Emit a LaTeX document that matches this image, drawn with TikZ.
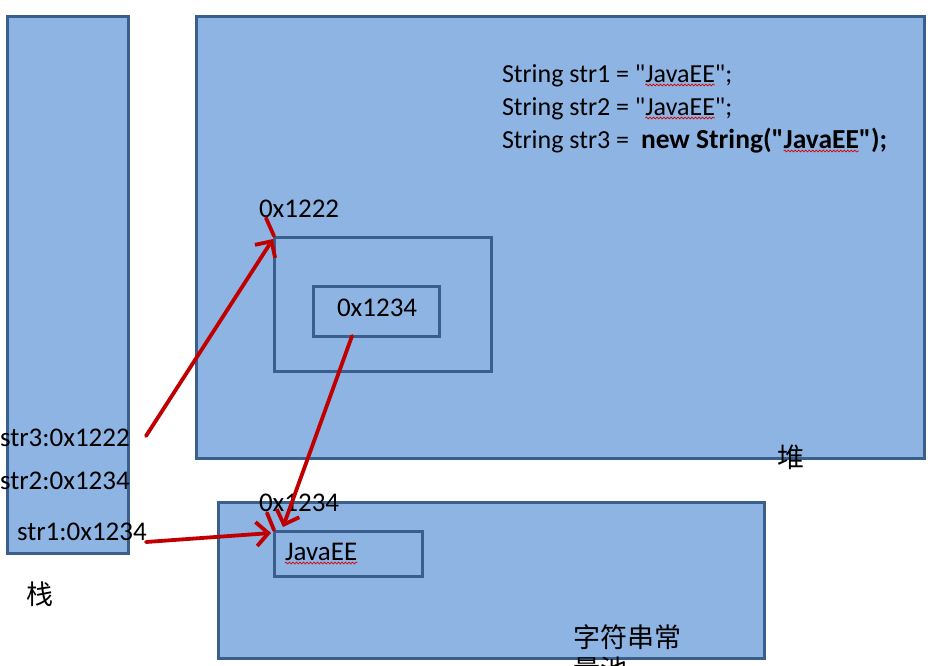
\documentclass[tikz,border=0pt]{standalone}
\usepackage{fontspec}
\setmainfont{Carlito}[Ligatures=TeXOff]
\newfontfamily\cjk{Noto Sans CJK SC}
\usetikzlibrary{arrows.meta,decorations.pathmorphing}
\definecolor{boxfill}{HTML}{8EB4E3}
\definecolor{boxline}{HTML}{3B5F8C}
\definecolor{arrowred}{HTML}{C00000}
\newcommand\dq{"}
\tikzset{
  box/.style={draw=boxline, fill=boxfill, line width=3pt, inner sep=0pt, outer sep=0pt, anchor=north west},
  lbl/.style={inner sep=0pt, outer sep=0pt, anchor=base west, font=\fontsize{27}{32}\selectfont},
  codelbl/.style={inner sep=0pt, outer sep=0pt, anchor=base west, font=\fontsize{26}{32}\selectfont},
  boldcode/.style={codelbl, font=\fontsize{27.5}{32}\selectfont\bfseries},
  cjklbl/.style={inner sep=0pt, outer sep=0pt, anchor=base west, font=\cjk\fontsize{27}{32}\selectfont},
  ref/.style={draw=arrowred, line width=3.8pt, line cap=round},
  refarrow/.style={ref, -{Straight Barb[length=12pt, width=24pt, line width=3.8pt]}},
  squig/.style={draw=red!85!black, line width=0.7pt, decorate, decoration={snake, segment length=3.5pt, amplitude=0.9pt}}
}
\begin{document}
\begin{tikzpicture}[x=1pt, y=-1pt]
\useasboundingbox (0,0) rectangle (947,665);
\clip (0,0) rectangle (947,665);
% boxes
\node[box, minimum width=121pt, minimum height=537pt] (stack) at (7,16) {};
\node[box, minimum width=728pt, minimum height=442pt] (heap) at (196,16) {};
\node[box, minimum width=217pt, minimum height=134pt] (obj) at (274,237) {};
\node[box, minimum width=126pt, minimum height=50pt] (inner) at (313,286) {};
\node[box, minimum width=546pt, minimum height=156pt] (pool) at (218,502) {};
\node[box, minimum width=148pt, minimum height=45pt] (javaee) at (274,531) {};
% code lines
\node[codelbl] (c1a) at (502,82) {String str1 = \dq};
\node[codelbl] (c1b) at (c1a.base east) {JavaEE};
\node[codelbl] (c1c) at (c1b.base east) {\dq;};
\node[codelbl] (c2a) at (502,115) {String str2 = \dq};
\node[codelbl] (c2b) at (c2a.base east) {JavaEE};
\node[codelbl] (c2c) at (c2b.base east) {\dq;};
\node[codelbl] (c3a) at (502,148) {String str3 =};
\node[boldcode] (c3n) at (641,148) {new String(\dq};
\node[boldcode] (c3b) at (c3n.base east) {JavaEE};
\node[boldcode] (c3c) at (c3b.base east) {\dq);};
% labels
\node[lbl] (addr1222) at (259,217) {0x1222};
\node[lbl] (inneraddr) at (337,316) {0x1234};
\node[lbl] (pooladdr) at (259,511) {0x1234};
\node[lbl] (jtext) at (285,560) {JavaEE};
\node[lbl] (s3) at (0,446) {str3:0x1222};
\node[lbl] (s2) at (0,489) {str2:0x1234};
\node[lbl] (s1) at (17,540) {str1:0x1234};
\node[cjklbl] (zhan) at (26,604) {栈};
\node[cjklbl] (dui) at (777,467) {堆};
\node[cjklbl] (poolname1) at (573,647) {字符串常};
\node[cjklbl] (poolname2) at (573,679) {量池};
% spell-check squiggles
\draw[squig] ([yshift=-3pt]c1b.base west) -- ([yshift=-3pt]c1b.base east);
\draw[squig] ([yshift=-3pt]c2b.base west) -- ([yshift=-3pt]c2b.base east);
\draw[squig] ([yshift=-3pt]c3b.base west) -- ([yshift=-3pt]c3b.base east);
\draw[squig] ([yshift=-3pt]jtext.base west) -- ([yshift=-3pt]jtext.base east);
% connectors
\coordinate (s3end) at (146,436);
\coordinate (s1end) at (146,542);
\coordinate (objtip) at (273,239);
\coordinate (jtip) at (283,527);
\coordinate (s1tip) at (271,533);
\coordinate (innerfoot) at (352,336);
\coordinate (l1222) at (266,218);
\coordinate (lpool) at (267,513);
\coordinate (cornerobj) at (274,236);
\coordinate (cornerpool) at (274,530);
\draw[refarrow] (s3end) -- (objtip);
\draw[refarrow] (innerfoot) -- (jtip);
\draw[refarrow] (s1end) -- (s1tip);
\draw[ref] (l1222) -- (cornerobj);
\draw[ref] (lpool) -- (cornerpool);
\end{tikzpicture}
\end{document}
